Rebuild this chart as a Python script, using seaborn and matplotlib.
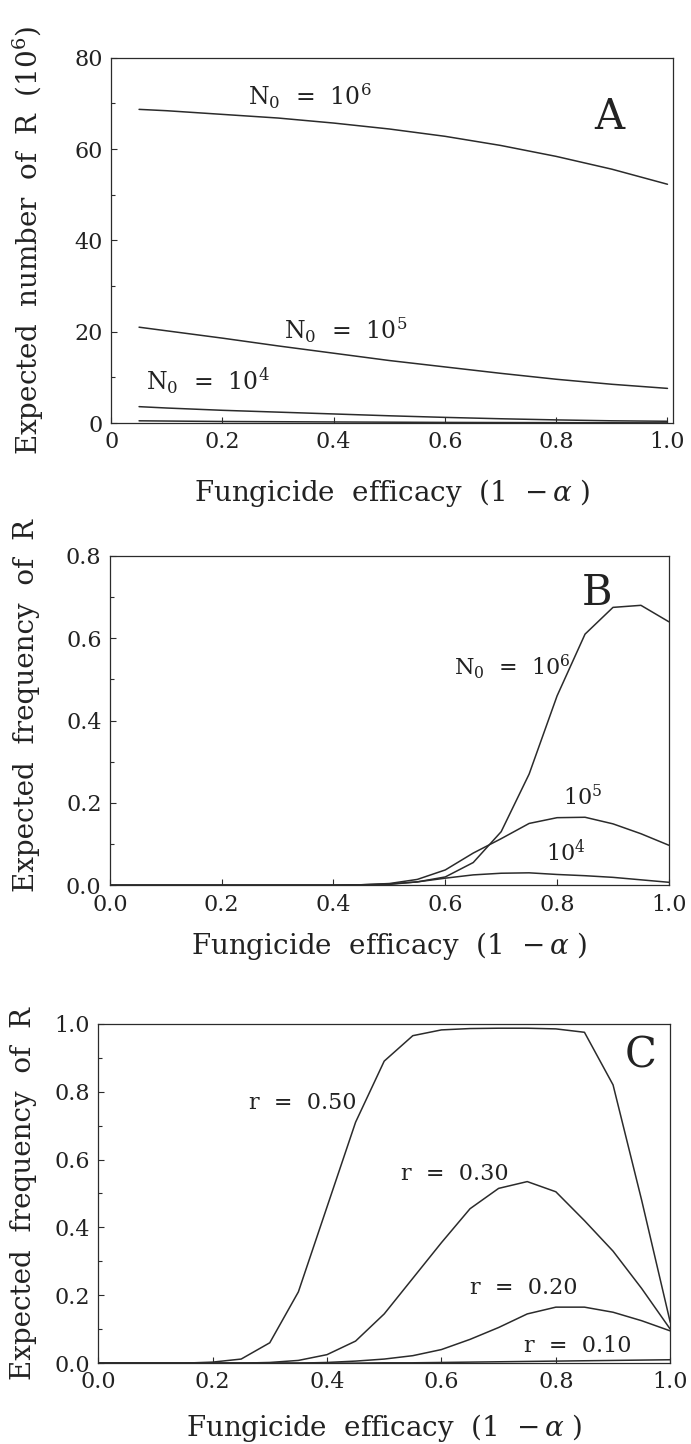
import pandas as pd
import seaborn as sns
import matplotlib.pyplot as plt
from matplotlib.ticker import MultipleLocator

# Panel A: expected number of R (x 10^6) against fungicide efficacy
a_x = [0.05, 0.1, 0.2, 0.3, 0.4, 0.5, 0.6, 0.7, 0.8, 0.9, 1.0]
a_n6 = [68.7, 68.4, 67.6, 66.8, 65.7, 64.4, 62.8, 60.8, 58.4, 55.6, 52.3]
a_n5 = [21.0, 20.2, 18.6, 16.9, 15.3, 13.7, 12.3, 10.9, 9.6, 8.5, 7.6]
a_n4 = [3.6, 3.3, 2.8, 2.4, 2.0, 1.6, 1.25, 0.95, 0.7, 0.5, 0.4]
a_n3 = [0.5, 0.45, 0.35, 0.3, 0.25, 0.2, 0.15, 0.12, 0.1, 0.07, 0.05]

# Panel B: expected frequency of R for three initial population sizes
b_x = [0.0, 0.1, 0.2, 0.3, 0.4, 0.45, 0.5, 0.55, 0.6, 0.65, 0.7, 0.75, 0.8, 0.85, 0.9, 0.95, 1.0]
b_n6 = [0, 0, 0, 0, 0, 0.0, 0.002, 0.008, 0.02, 0.055, 0.13, 0.27, 0.46, 0.61, 0.675, 0.68, 0.64]
b_n5 = [0, 0, 0, 0, 0, 0.001, 0.004, 0.014, 0.037, 0.078, 0.113, 0.15, 0.164, 0.165, 0.149, 0.125, 0.097]
b_n4 = [0, 0, 0, 0, 0, 0.001, 0.003, 0.008, 0.017, 0.025, 0.029, 0.030, 0.026, 0.023, 0.019, 0.013, 0.007]

# Panel C: expected frequency of R for several growth rates r
c_x = [0.0, 0.05, 0.1, 0.15, 0.2, 0.25, 0.3, 0.35, 0.4, 0.45, 0.5,
       0.55, 0.6, 0.65, 0.7, 0.75, 0.8, 0.85, 0.9, 0.95, 1.0]
c_r50 = [0, 0, 0, 0, 0.003, 0.012, 0.06, 0.21, 0.46, 0.71, 0.89,
         0.965, 0.982, 0.986, 0.987, 0.987, 0.985, 0.975, 0.82, 0.48, 0.12]
c_r30 = [0, 0, 0, 0, 0, 0, 0.002, 0.008, 0.025, 0.065, 0.145,
         0.25, 0.355, 0.455, 0.515, 0.535, 0.505, 0.42, 0.33, 0.22, 0.10]
c_r20 = [0, 0, 0, 0, 0, 0, 0, 0, 0.002, 0.006, 0.012,
         0.022, 0.04, 0.07, 0.105, 0.145, 0.165, 0.165, 0.15, 0.125, 0.095]
c_r10 = [0, 0, 0, 0, 0, 0, 0, 0, 0, 0, 0.001,
         0.001, 0.002, 0.003, 0.004, 0.005, 0.006, 0.007, 0.008, 0.009, 0.01]

sns.set_theme(style="ticks")
plt.rcParams["font.family"] = ["DejaVu Serif"]
plt.rcParams["mathtext.fontset"] = "dejavuserif"

line_color = "#2b2b2b"
text_color = "#222222"
xlabel = r"Fungicide  efficacy  (1  $-\,\alpha$ )"


def style_axes(ax, ymax, ymajor, yminor, xmax):
    ax.set_xlim(0, xmax)
    ax.set_ylim(0, ymax)
    ax.xaxis.set_major_locator(MultipleLocator(0.2))
    ax.yaxis.set_major_locator(MultipleLocator(ymajor))
    ax.yaxis.set_minor_locator(MultipleLocator(yminor))
    ax.tick_params(which="both", direction="in", width=0.8, colors=line_color,
                   labelsize=16, labelcolor=text_color, pad=6)
    ax.tick_params(which="major", length=4)
    ax.tick_params(which="minor", length=3)
    for sp in ax.spines.values():
        sp.set_visible(True)
        sp.set_linewidth(0.9)
        sp.set_color(line_color)
    ax.set_xlabel(xlabel, fontsize=20, color=text_color)


fig = plt.figure(figsize=(6.91, 14.44), dpi=100)

# ---- A ----
ax_a = fig.add_axes([0.161, 0.707, 0.813, 0.253])
for ys in [a_n6, a_n5, a_n4, a_n3]:
    sns.lineplot(x=a_x, y=ys, ax=ax_a, color=line_color, linewidth=1.1)
style_axes(ax_a, 80, 20, 10, 1.01)
ax_a.xaxis.set_major_formatter(plt.FuncFormatter(lambda v, p: "0" if v == 0 else f"{v:.1f}"))
ax_a.set_ylabel(r"Expected  number  of  R  (10$^6$)", fontsize=20, color=text_color)
ax_a.yaxis.set_label_coords(-0.116, 0.5)
ax_a.xaxis.set_label_coords(0.5, -0.148)
ax_a.text(0.245, 71.5, r"N$_0$  =  10$^6$", fontsize=17, va="center", color=text_color)
ax_a.text(0.31, 20.3, r"N$_0$  =  10$^5$", fontsize=17, va="center", color=text_color)
ax_a.text(0.063, 9.3, r"N$_0$  =  10$^4$", fontsize=17, va="center", color=text_color)
ax_a.text(0.895, 67, "A", fontsize=30, ha="center", va="center", color=text_color)

# ---- B ----
ax_b = fig.add_axes([0.159, 0.387, 0.809, 0.228])
for ys in [b_n6, b_n5, b_n4]:
    sns.lineplot(x=b_x, y=ys, ax=ax_b, color=line_color, linewidth=1.1)
style_axes(ax_b, 0.8, 0.2, 0.1, 1.0)
ax_b.yaxis.set_major_formatter(plt.FuncFormatter(lambda v, p: f"{v:.1f}"))
ax_b.xaxis.set_major_formatter(plt.FuncFormatter(lambda v, p: f"{v:.1f}"))
ax_b.set_ylabel("Expected  frequency  of  R", fontsize=20, color=text_color)
ax_b.yaxis.set_label_coords(-0.125, 0.547)
ax_b.xaxis.set_label_coords(0.5, -0.137)
ax_b.text(0.615, 0.53, r"N$_0$  =  10$^6$", fontsize=16, va="center", color=text_color)
ax_b.text(0.81, 0.213, r"10$^5$", fontsize=16, va="center", color=text_color)
ax_b.text(0.78, 0.079, r"10$^4$", fontsize=16, va="center", color=text_color)
ax_b.text(0.872, 0.71, "B", fontsize=30, ha="center", va="center", color=text_color)

# ---- C ----
ax_c = fig.add_axes([0.142, 0.056, 0.828, 0.235])
for ys in [c_r50, c_r30, c_r20, c_r10]:
    sns.lineplot(x=c_x, y=ys, ax=ax_c, color=line_color, linewidth=1.1)
style_axes(ax_c, 1.0, 0.2, 0.1, 1.0)
ax_c.yaxis.set_major_formatter(plt.FuncFormatter(lambda v, p: f"{v:.1f}"))
ax_c.xaxis.set_major_formatter(plt.FuncFormatter(lambda v, p: f"{v:.1f}"))
ax_c.set_ylabel("Expected  frequency  of  R", fontsize=20, color=text_color)
ax_c.yaxis.set_label_coords(-0.107, 0.5)
ax_c.xaxis.set_label_coords(0.5, -0.144)
ax_c.text(0.263, 0.766, "r  =  0.50", fontsize=16, va="center", color=text_color)
ax_c.text(0.53, 0.557, "r  =  0.30", fontsize=16, va="center", color=text_color)
ax_c.text(0.65, 0.222, "r  =  0.20", fontsize=16, va="center", color=text_color)
ax_c.text(0.745, 0.05, "r  =  0.10", fontsize=16, va="center", color=text_color)
ax_c.text(0.948, 0.906, "C", fontsize=30, ha="center", va="center", color=text_color)

fig.savefig("out.png", dpi=100, facecolor="white")
plt.close(fig)
